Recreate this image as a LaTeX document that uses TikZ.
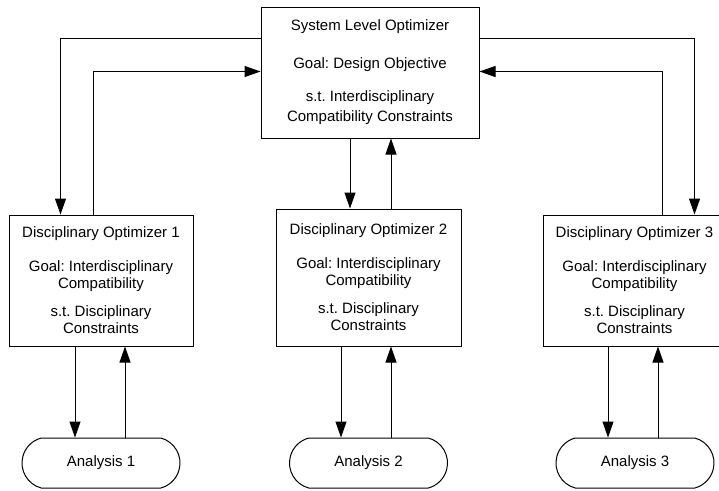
\documentclass[tikz,border=0pt]{standalone}
\usepackage{fontspec}
\setmainfont{Liberation Sans}
\usetikzlibrary{arrows.meta,shapes.misc}
\tikzset{
  box/.style={draw=black, line width=1pt, rectangle, align=center, inner sep=0pt,
              font=\fontsize{15}{17}\selectfont},
  ana/.style={draw=black, line width=1pt, rounded rectangle, rounded rectangle arc length=150,
              minimum width=158pt, minimum height=50pt, inner sep=0pt,
              font=\fontsize{15}{17}\selectfont},
  arr/.style={line width=1pt, -{Triangle[length=16pt,width=11pt]}}
}
\begin{document}
\frenchspacing
\begin{tikzpicture}[x=1pt,y=-1pt]
\clip (0,0) rectangle (719,490);
\fill[white] (0,0) rectangle (719,490);

\node[box, minimum width=218pt, minimum height=131pt, font=\fontsize{15}{20}\selectfont] (S) at (370,72.5)
  {System Level Optimizer\\[18pt]Goal: Design Objective\\[13pt]s.t. Interdisciplinary\\Compatibility Constraints};

\node[box, minimum width=184pt, minimum height=131pt] (D1) at (101,280.5)
  {Disciplinary Optimizer 1\\[17pt]Goal: Interdisciplinary\\Compatibility\\[11pt]s.t. Disciplinary\\Constraints};
\node[box, minimum width=185pt, minimum height=137pt] (D2) at (368.5,277.5)
  {Disciplinary Optimizer 2\\[17pt]Goal: Interdisciplinary\\Compatibility\\[11pt]s.t. Disciplinary\\Constraints};
\node[box, minimum width=183pt, minimum height=131pt] (D3) at (634.5,280.5)
  {Disciplinary Optimizer 3\\[17pt]Goal: Interdisciplinary\\Compatibility\\[11pt]s.t. Disciplinary\\Constraints};

\node[ana] (A1) at (101,463) {Analysis 1};
\node[ana] (A2) at (368.5,463) {Analysis 2};
\node[ana] (A3) at (635,463) {Analysis 3};

% system <-> D1
\draw[arr] ([yshift=-32pt]S.north west) -| ([xshift=52pt]D1.north west);
\draw[arr] ([xshift=85pt]D1.north west) |- ([yshift=-65pt]S.north west);
% system <-> D2
\draw[arr] ([xshift=-20pt]S.south) -- ([xshift=-20pt]S.south |- D2.north);
\draw[arr] ([xshift=21pt]S.south |- D2.north) -- ([xshift=21pt]S.south);
% system <-> D3
\draw[arr] ([yshift=-32pt]S.north east) -| ([xshift=-32pt]D3.north east);
\draw[arr] ([xshift=-64pt]D3.north east) |- ([yshift=-65pt]S.north east);

% D <-> A
\draw[arr] ([xshift=-26pt]D1.south) -- ([xshift=-26pt]D1.south |- A1.north);
\draw[arr] ([xshift=24pt]D1.south |- A1.north) -- ([xshift=24pt]D1.south);
\draw[arr] ([xshift=-27.5pt]D2.south) -- ([xshift=-27.5pt]D2.south |- A2.north);
\draw[arr] ([xshift=22.5pt]D2.south |- A2.north) -- ([xshift=22.5pt]D2.south);
\draw[arr] ([xshift=-26.5pt]D3.south) -- ([xshift=-26.5pt]D3.south |- A3.north);
\draw[arr] ([xshift=23.5pt]D3.south |- A3.north) -- ([xshift=23.5pt]D3.south);
\end{tikzpicture}
\end{document}
